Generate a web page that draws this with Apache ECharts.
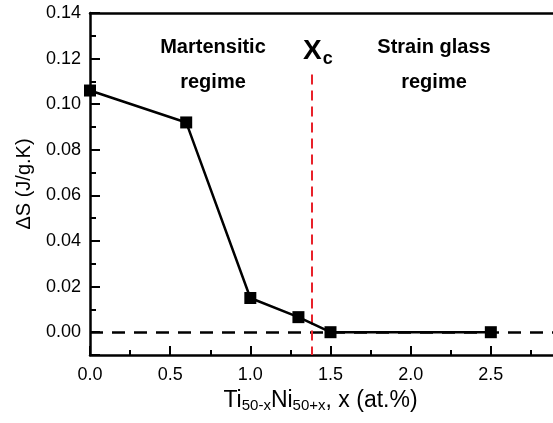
<!DOCTYPE html>
<html>
<head>
<meta charset="utf-8">
<script src="https://cdn.jsdelivr.net/npm/echarts@6/dist/echarts.min.js"></script>
<style>
  html, body { margin: 0; padding: 0; background: #fff; }
  #chart { width: 553px; height: 423px; }
</style>
</head>
<body>
<div id="chart"></div>
<script>
// composition x (at.%) and entropy change dS (J/g.K)
const xValues = [0.0, 0.6, 1.0, 1.3, 1.5, 2.5];
const dsValues = [0.106, 0.092, 0.015, 0.0066, 0.0, 0.0];
const xcValue = 1.38;
const xcTop = 0.113;

const FONT = "Liberation Sans, Arial, sans-serif";

const chart = echarts.init(document.getElementById("chart"));

const label = (text, x, y) => ({
  type: "text",
  x: x,
  y: y,
  style: {
    text: text,
    align: "center",
    textAlign: "center",
    verticalAlign: "middle",
    textVerticalAlign: "middle",
    fontFamily: FONT,
    fontWeight: "bold",
    fontSize: 20,
    fill: "#000",
  },
});

const option = {
  animation: false,
  grid: {
    left: 90,
    top: 13,
    width: 481,
    bottom: 68,
    outerBoundsMode: "none",
    containLabel: false,
  },
  xAxis: [
    {
      type: "value",
      min: 0,
      max: 3,
      interval: 0.5,
      splitLine: { show: false },
      axisLine: { onZero: false, lineStyle: { color: "#000", width: 2.5 } },
      axisTick: { inside: true, length: 9, lineStyle: { color: "#000", width: 2 } },
      minorTick: { show: true, splitNumber: 2, length: 5, lineStyle: { color: "#000", width: 2 } },
      axisLabel: {
        color: "#000",
        fontFamily: FONT,
        fontSize: 18,
        margin: 11,
        formatter: (v) => v.toFixed(1),
      },
      name: "{n|Ti}{s|50-x}{n|Ni}{s|50+x}{n|, x (at.%)}",
      nameLocation: "middle",
      nameGap: 30,
      nameTextStyle: {
        padding: [0, 20, 0, 0],
        rich: {
          n: { fontFamily: FONT, fontSize: 23, color: "#000" },
          s: { fontFamily: FONT, fontSize: 15, color: "#000", verticalAlign: "bottom", padding: [11, 0, 0, 0] },
        },
      },
    },
    {
      type: "value",
      position: "top",
      min: 0,
      max: 3,
      axisLine: { show: true, onZero: false, lineStyle: { color: "#000", width: 2.5 } },
      axisTick: { show: false },
      axisLabel: { show: false },
      splitLine: { show: false },
    },
  ],
  yAxis: {
    type: "value",
    min: -0.01,
    max: 0.14,
    splitNumber: 7,
    splitLine: { show: false },
    axisLine: { onZero: false, lineStyle: { color: "#000", width: 2.5 } },
    axisTick: { inside: true, length: 10, lineStyle: { color: "#000", width: 2 } },
    minorTick: { show: true, splitNumber: 2, length: 6, lineStyle: { color: "#000", width: 2 } },
    axisLabel: {
      color: "#000",
      fontFamily: FONT,
      fontSize: 18,
      margin: 9,
      showMinLabel: false,
      formatter: (v) => (v < -0.005 ? "" : v.toFixed(2)),
    },
    name: "\u0394S (J/g.K)",
    nameLocation: "middle",
    nameGap: 56,
    nameTextStyle: { fontFamily: FONT, fontSize: 20, color: "#000" },
  },
  graphic: [
    label("Martensitic", 213, 47),
    label("regime", 213, 82),
    label("Strain glass", 434, 47),
    label("regime", 434, 82),
    {
      type: "text",
      x: 303,
      y: 35,
      style: {
        text: "{x|X}{c|c}",
        rich: {
          x: { fontFamily: FONT, fontWeight: "bold", fontSize: 28, color: "#000" },
          c: { fontFamily: FONT, fontWeight: "bold", fontSize: 18, color: "#000", verticalAlign: "bottom", padding: [15, 0, 0, 1] },
        },
      },
    },
  ],
  series: [
    {
      type: "line",
      data: xValues.map((x, i) => [x, dsValues[i]]),
      symbol: "rect",
      symbolSize: 12,
      lineStyle: { color: "#000", width: 2.5 },
      itemStyle: { color: "#000" },
      z: 5,
      markLine: {
        silent: true,
        symbol: "none",
        label: { show: false },
        lineStyle: { color: "#000", width: 2.5, type: [13, 9] },
        data: [
          { yAxis: 0 },
          [
            { coord: [xcValue, xcTop], lineStyle: { color: "#e8212a", width: 2, type: [10, 6] } },
            { coord: [xcValue, -0.01] },
          ],
        ],
      },
    },
  ],
};

chart.setOption(option);
</script>
</body>
</html>
